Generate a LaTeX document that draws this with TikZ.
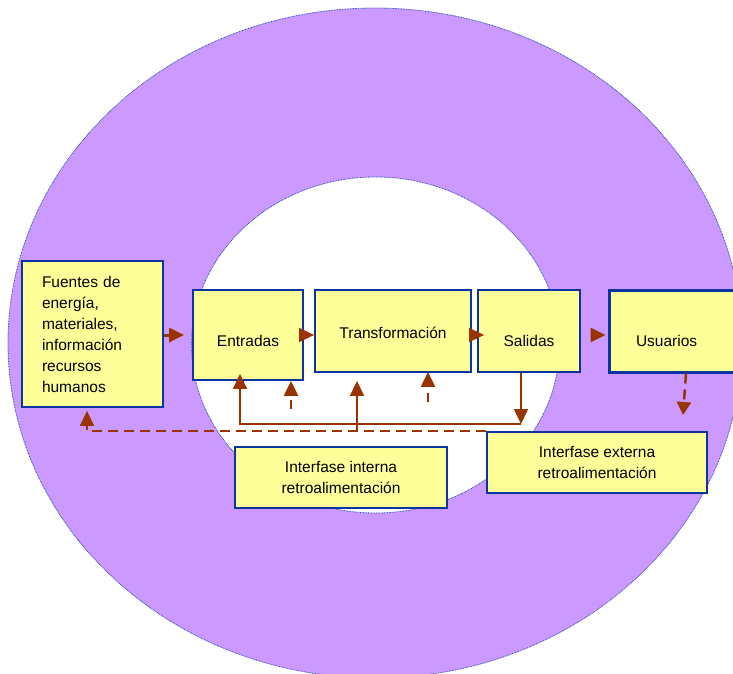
\documentclass[tikz,border=0pt]{standalone}
\usepackage{fontspec}
\setmainfont{Liberation Sans}
\usetikzlibrary{arrows.meta}
\definecolor{ring}{HTML}{CC99FF}
\definecolor{boxfill}{HTML}{FFFF99}
\definecolor{boxline}{HTML}{0A34A0}
\definecolor{flow}{HTML}{993300}
\definecolor{rim}{HTML}{2A4BC0}

\begin{document}
\begin{tikzpicture}[x=1pt,y=-1pt,
  box/.style={draw=boxline, fill=boxfill, line width=1.8pt, inner sep=0pt,
    font=\fontsize{15.5}{21}\selectfont, align=center},
  lowtext/.style={text height=#1, text depth=3pt},
  head/.style={-{Triangle[length=15pt,width=14pt]}},
  arr/.style={draw=flow, line width=1.5pt, head},
  thickarr/.style={draw=flow, line width=3pt, head},
  stubarr/.style={draw=flow, line width=2.2pt, dash pattern=on 9pt off 6pt, head},
  dasharr/.style={draw=flow, line width=2.5pt, dash pattern=on 10pt off 6pt,
    -{Triangle[length=13pt,width=14pt]}},
  feedback/.style={draw=flow, line width=1.5pt, dash pattern=on 10pt off 6pt, head},
  rimline/.style={draw=rim, line width=0.8pt, dash pattern=on 0.8pt off 0.8pt}
]
\useasboundingbox (0,0) rectangle (733,673);
\clip (0,0) rectangle (733,673);

% purple ring with dotted rims
\fill[ring, even odd rule]
  (375,343) ellipse [x radius=367pt, y radius=335pt]
  (375.5,345) ellipse [x radius=184pt, y radius=168pt];
\draw[rimline] (375,343) ellipse [x radius=367pt, y radius=335pt];
\draw[rimline] (375.5,345) ellipse [x radius=184pt, y radius=168pt];

% blocks
\node[box, minimum width=141pt, minimum height=146pt, text width=101pt,
  inner xsep=20pt, align=left] (fuentes) at (92.5,334)
  {Fuentes de\\energía,\\materiales,\\información\\recursos\\humanos};
\node[box, minimum width=110pt, minimum height=90pt, lowtext=26pt]
  (entradas) at (248,335) {Entradas};
\node[box, minimum width=156pt, minimum height=82pt, lowtext=18pt]
  (transf) at (393,331) {Transformación};
\node[box, minimum width=102pt, minimum height=82pt, lowtext=34pt]
  (salidas) at (529,331) {Salidas};
\node[box, line width=3pt, minimum width=126pt, minimum height=82pt,
  lowtext=34pt, text width=72pt, inner xsep=27pt, align=left]
  (usuarios) at (672,331) {Usuarios};
\node[box, minimum width=212pt, minimum height=61pt]
  (interna) at (341,477.5) {Interfase interna\\retroalimentación};
\node[box, minimum width=220pt, minimum height=61pt]
  (externa) at (597,462.5) {Interfase externa\\retroalimentación};

% helper points of the feedback lines
\coordinate (jr) at (521,424);
\coordinate (fb) at (357,432);
\coordinate (s1) at (291,409);
\coordinate (s2) at (428,402);
\coordinate (ut) at (683,415);

% main flow
\draw[thickarr] (fuentes.east |- entradas.west) -- ([xshift=-8pt]entradas.west);
\draw[arr] (entradas.east) -- (entradas.east -| transf.west);
\draw[arr] (transf.east |- entradas.east) -- ([xshift=7pt]salidas.west |- entradas.east);
\draw[thickarr] ([xshift=12pt]salidas.east |- entradas.east) -- ([xshift=-2pt]usuarios.west |- entradas.east);
\draw[dasharr] ([xshift=14pt]usuarios.south) -- (ut);

% internal feedback loop
\draw[arr] (jr |- salidas.south) -- (jr);
\draw[arr, shorten >=-7pt] (jr) -| ([xshift=-8pt]entradas.south);
\draw[arr, shorten >=8pt] (fb) -- (fb |- transf.south);
\draw[stubarr] (s1) -- (s1 |- entradas.south);
\draw[stubarr, shorten >=-1pt] (s2) -- (s2 |- transf.south);

% external feedback back to the sources
\draw[feedback] (externa.north west) -| ([xshift=-5.5pt,yshift=-3pt]fuentes.south);
\end{tikzpicture}
\end{document}
